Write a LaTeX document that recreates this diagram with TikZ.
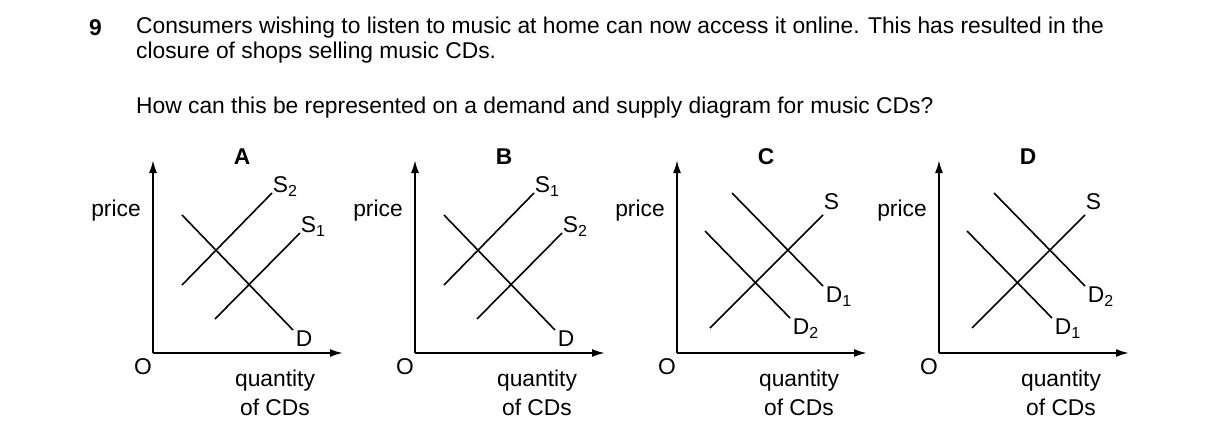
\documentclass[tikz,border=0pt]{standalone}
\usepackage{fontspec}
\setmainfont{Liberation Sans}
\usetikzlibrary{arrows.meta}
\begin{document}
\begin{tikzpicture}[x=1pt,y=-1pt,>={Latex[length=13pt,width=8pt]},
  curve/.style={line width=1.6pt},
  axis/.style={line width=2pt,->},
  lbl/.style={font=\fontsize{22.8}{26}\selectfont,inner sep=0pt},
  title/.style={font=\fontsize{22.8}{26}\selectfont\bfseries,inner sep=0pt}]
  \useasboundingbox (0,0) rectangle (1216,440);

  \node[title,anchor=west] (num) at (89,28) {9};
  \node[lbl,anchor=west] (q1) at (136,28) {Consumers wishing to listen to music at home can now access it online. This has resulted in the};
  \node[lbl,anchor=west] (q2) at (136,53) {closure of shops selling music CDs.};
  \node[lbl,anchor=west] (q3) at (136,108) {How can this be represented on a demand and supply diagram for music CDs?};

  % common axes
  \foreach \ox/\name in {153/A,415/B,677/C,939/D}{
    \begin{scope}[shift={(\ox,353)}]
      \coordinate (O\name) at (0,0);
      \coordinate (Y\name) at (0,-193);
      \coordinate (X\name) at (190,0);
      \draw[axis] (O\name) -- (Y\name);
      \draw[axis] (O\name) -- (X\name);
      \node[title] (t\name) at (89,-196) {\name};
      \node[lbl] (p\name) at (-37,-142) {price};
      \node[lbl] (o\name) at (-10,14) {O};
      \node[lbl] (q\name) at (122,28) {quantity};
      \node[lbl] (c\name) at (122,54) {of CDs};
    \end{scope}
  }

  % A and B: supply shifts
  \foreach \ox/\sl/\sr in {153/2/1,415/1/2}{
    \begin{scope}[shift={(\ox,353)}]
      \draw[curve] (29,-138) -- (140,-23) node[lbl,anchor=north west,xshift=2pt] {D};
      \draw[curve] (29,-68) -- (119,-160) node[lbl,anchor=south west,yshift=-4pt] {S\textsubscript{\sl}};
      \draw[curve] (62,-34) -- (147,-120) node[lbl,anchor=south west,yshift=-4pt] {S\textsubscript{\sr}};
    \end{scope}
  }

  % C and D: demand shifts
  \foreach \ox/\dr/\dl in {677/1/2,939/2/1}{
    \begin{scope}[shift={(\ox,353)}]
      \draw[curve] (33,-25) -- (146,-138) node[lbl,anchor=south west,yshift=4pt] {S};
      \draw[curve] (55,-160) -- (146,-67) node[lbl,anchor=north west,xshift=2pt] {D\textsubscript{\dr}};
      \draw[curve] (28,-122) -- (113,-35) node[lbl,anchor=north west,xshift=2pt] {D\textsubscript{\dl}};
    \end{scope}
  }
\end{tikzpicture}
\end{document}
